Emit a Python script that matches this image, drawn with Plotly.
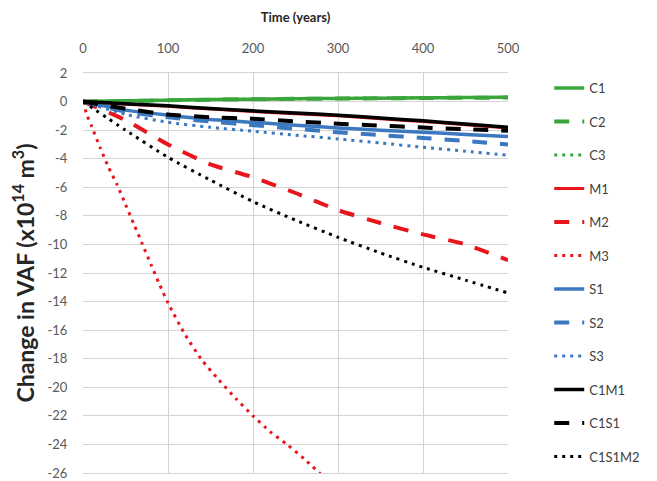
import plotly.graph_objects as go

# Change in VAF (x10^14 m^3) against time (years)
years_full = [0, 50, 100, 150, 200, 250, 300, 350, 400, 450, 500]

c1 = [0, 0.05, 0.1, 0.14, 0.17, 0.2, 0.22, 0.24, 0.26, 0.28, 0.3]
c2 = [0, 0.04, 0.09, 0.13, 0.16, 0.19, 0.21, 0.23, 0.25, 0.27, 0.28]
c3 = [0, 0.05, 0.1, 0.14, 0.17, 0.2, 0.22, 0.24, 0.26, 0.28, 0.3]
m1 = [0, -0.18, -0.33, -0.52, -0.7, -0.85, -1.0, -1.2, -1.4, -1.62, -1.85]
m2 = [0, -1.3, -3.0, -4.4, -5.3, -6.4, -7.6, -8.5, -9.3, -10.0, -11.1]
s1 = [0, -0.6, -0.95, -1.25, -1.45, -1.65, -1.85, -2.0, -2.15, -2.3, -2.45]
s2 = [0, -0.7, -1.1, -1.4, -1.65, -1.9, -2.15, -2.35, -2.55, -2.75, -3.0]
s3 = [0, -0.9, -1.45, -1.8, -2.08, -2.35, -2.62, -2.9, -3.2, -3.48, -3.75]
c1m1 = [0, -0.15, -0.3, -0.48, -0.65, -0.8, -0.95, -1.15, -1.35, -1.57, -1.8]
c1s1 = [0, -0.5, -0.9, -1.1, -1.2, -1.38, -1.55, -1.68, -1.82, -1.93, -2.05]
c1s1m2 = [0, -2.0, -3.9, -5.5, -7.0, -8.3, -9.5, -10.6, -11.6, -12.5, -13.4]

# M3 drops off the bottom of the chart
years_m3 = [0, 5, 10, 20, 30, 40, 50, 60, 70, 80, 90, 100, 120, 140, 160,
            180, 200, 220, 240, 260, 280]
m3 = [0, -1.0, -1.7, -3.2, -4.6, -5.8, -7.2, -8.6, -10.0, -11.4, -12.8,
      -14.1, -16.3, -18.1, -19.5, -20.8, -22.0, -23.1, -24.0, -25.0, -26.1]

y_ticks = list(range(-26, 3, 2))
y_labels = [str(v) for v in y_ticks]   # plain hyphen like the original
x_ticks = [0, 100, 200, 300, 400, 500]

GREEN = "#3aa53a"
RED = "#e8161b"
BLUE = "#3b78c0"
BLACK = "#000000"
DASH = "15px,13px"
DOT = "3px,5px"

series = [
    ("C1", years_full, c1, GREEN, "solid", 3.5),
    ("C2", years_full, c2, GREEN, DASH, 4),
    ("C3", years_full, c3, GREEN, DOT, 3),
    ("M1", years_full, m1, RED, "solid", 3),
    ("M2", years_full, m2, RED, DASH, 4),
    ("M3", years_m3, m3, RED, DOT, 3),
    ("S1", years_full, s1, BLUE, "solid", 3.5),
    ("S2", years_full, s2, BLUE, DASH, 4),
    ("S3", years_full, s3, BLUE, DOT, 3),
    ("C1M1", years_full, c1m1, BLACK, "solid", 3.5),
    ("C1S1", years_full, c1s1, BLACK, DASH, 4),
    ("C1S1M2", years_full, c1s1m2, BLACK, DOT, 3),
]

fig = go.Figure()
for name, xs, ys, col, dash, w in series:
    fig.add_trace(go.Scatter(x=xs, y=ys, mode="lines", name=name,
                             legendgroup=name,
                             line=dict(color=col, dash=dash, width=w,
                                       shape="spline", smoothing=0.6)))

# the page body adds an 8px offset, so margins are pulled in by that much
fig.update_layout(
    width=657, height=481,
    margin=dict(l=75, r=157, t=65, b=16, autoexpand=False),
    paper_bgcolor="white", plot_bgcolor="white",
    font=dict(family="Lato, sans-serif", size=13, color="#595959"),
    showlegend=True,
    legend=dict(x=1.097, y=1.0, xanchor="left", yanchor="top",
                tracegroupgap=13.6, font=dict(size=13, color="#404040"),
                bgcolor="rgba(0,0,0,0)"),
    xaxis=dict(side="top", range=[0, 500], tickvals=x_ticks,
               showgrid=True, gridcolor="#d4d4d4", gridwidth=1,
               zeroline=False, ticks="outside", ticklen=14,
               tickcolor="rgba(0,0,0,0)", automargin=False,
               title=dict(text="<b>Time (years)</b>", standoff=14,
                          font=dict(size=13, color="#262626"))),
    yaxis=dict(range=[-26, 2], tickvals=y_ticks, ticktext=y_labels,
               showgrid=True, gridcolor="#d4d4d4", gridwidth=1,
               zeroline=False, showline=False, ticks="outside", ticklen=12,
               tickcolor="rgba(0,0,0,0)", automargin=False,
               title=dict(text="<b>Change in VAF (x10<sup>14</sup> m<sup>3</sup>)</b>",
                          standoff=10, font=dict(size=23, color="#262626"))),
)
# plot frame on the left and right, light grey like the grid
fig.update_xaxes(mirror=True, showline=True, linecolor="#d4d4d4")

fig.write_html("out.html")
